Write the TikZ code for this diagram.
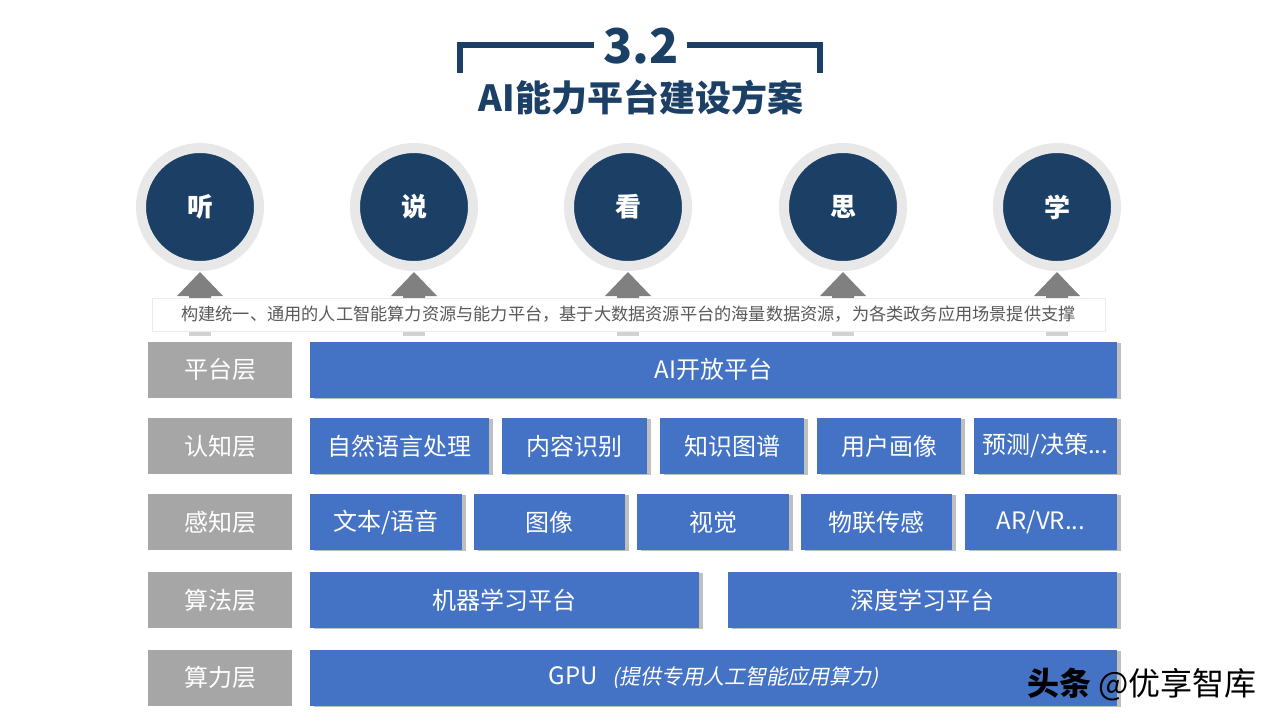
\documentclass[tikz,border=0pt]{standalone}
\usepackage{fontspec}
\setmainfont{Noto Sans CJK SC}
\newfontfamily\slantfont[FakeSlant=0.2]{Noto Sans CJK SC}
\usetikzlibrary{shadows}
\definecolor{navy}{HTML}{1C3F66}
\definecolor{ringgray}{HTML}{E8E8E8}
\definecolor{moduleblue}{HTML}{4472C4}
\definecolor{layergray}{HTML}{A6A6A6}
\definecolor{arrowgray}{HTML}{808080}
\definecolor{arrowlight}{HTML}{D2D2D2}
\definecolor{bandtext}{HTML}{595959}

\begin{document}
\begin{tikzpicture}[x=0.5pt,y=-0.5pt,
        bracket/.style={
            draw=navy,
            line width=3pt
        },
        ability/.style={
            circle,
            fill=navy,
            draw=ringgray,
            line width=5pt,
            minimum size=59pt,
            text=white,
            font=\bfseries\fontsize{13}{15}\selectfont
        },
        band/.style={
            fill=white,
            draw=black!8,
            minimum width=476.5pt,
            minimum height=16.5pt,
            inner sep=0pt,
            text=bandtext,
            font=\fontsize{8.6}{10}\selectfont
        },
        layer/.style={
            fill=layergray,
            minimum width=72pt,
            minimum height=28pt,
            inner sep=0pt,
            text=white,
            font=\fontsize{12}{14}\selectfont
        },
        module/.style={
            fill=moduleblue,
            minimum height=28pt,
            inner sep=0pt,
            text=white,
            font=\fontsize{12}{14}\selectfont,
            drop shadow={shadow xshift=2pt, shadow yshift=-0.6pt, fill=black!25, opacity=1}
        }
    ]
    \useasboundingbox (0,0) rectangle (1280,720);

    % title
    \draw[bracket] (459.5,73) -- (459.5,45) -- (594,45);
    \draw[bracket] (687,45) -- (819.5,45) -- (819.5,73);
    \node[anchor=base, text=navy, font=\bfseries\fontsize{24}{28}\selectfont] (number) at (641,63) {3.2};
    \node[anchor=base, text=navy, font=\bfseries\fontsize{18}{22}\selectfont] (title) at (641,111) {AI能力平台建设方案};

    % abilities
    \node[ability] (ting) at (200,207) {听};
    \node[ability] (shuo) at (414,207) {说};
    \node[ability] (kan) at (628,207) {看};
    \node[ability] (si) at (843,207) {思};
    \node[ability] (xue) at (1057,207) {学};

    \foreach \c in {ting,shuo,kan,si,xue} {
        \fill[arrowgray] ([shift={(0,65)}]\c.center) -- ++(23,24) -- ++(-12,0) -- ++(0,4)
            -- ++(-22,0) -- ++(0,-4) -- ++(-12,0) -- cycle;
        \fill[arrowlight] ([shift={(-11,123)}]\c.center) rectangle ++(22,6);
    }

    \node[band] (intro) at (628.5,314.5) {构建统一、通用的人工智能算力资源与能力平台，基于大数据资源平台的海量数据资源，为各类政务应用场景提供支撑};

    % layers
    \node[layer] (platform) at (220,369.5) {平台层};
    \node[layer] (cognition) at (220,446) {认知层};
    \node[layer] (perception) at (220,522) {感知层};
    \node[layer] (algorithm) at (220,600) {算法层};
    \node[layer] (computing) at (220,677.5) {算力层};

    \node[module, minimum width=403.5pt] (aiopen) at (713.5,369.5) {AI开放平台};

    \node[module, minimum width=89.5pt] (nlp) at (399.5,446) {自然语言处理};
    \node[module, minimum width=72.5pt] (content) at (574.5,446) {内容识别};
    \node[module, minimum width=72pt] (graph) at (732,446) {知识图谱};
    \node[module, minimum width=72pt] (profile) at (889,446) {用户画像};
    \node[module, minimum width=71.5pt] (decision) at (1045.5,446) {预测/决策...};

    \node[module, minimum width=76pt] (speech) at (386,522) {文本/语音};
    \node[module, minimum width=75.5pt] (image) at (549.5,522) {图像};
    \node[module, minimum width=76pt] (vision) at (713,522) {视觉};
    \node[module, minimum width=75.5pt] (iot) at (876.5,522) {物联传感};
    \node[module, minimum width=76pt] (arvr) at (1041,522) {AR/VR...};

    \node[module, minimum width=194.5pt] (ml) at (504.5,600) {机器学习平台};
    \node[module, minimum width=194.5pt] (dl) at (922.5,600) {深度学习平台};

    \node[module, minimum width=403.5pt] (gpu) at (713.5,677.5) {GPU\hspace{0.6em}{\slantfont\fontsize{10.5}{12}\selectfont(提供专用人工智能应用算力)}};

    % watermark
    \node[anchor=base west, font=\fontsize{16}{18}\selectfont] (mark) at (1020,695) {\textbf{头条} @优享智库};

\end{tikzpicture}
\end{document}
